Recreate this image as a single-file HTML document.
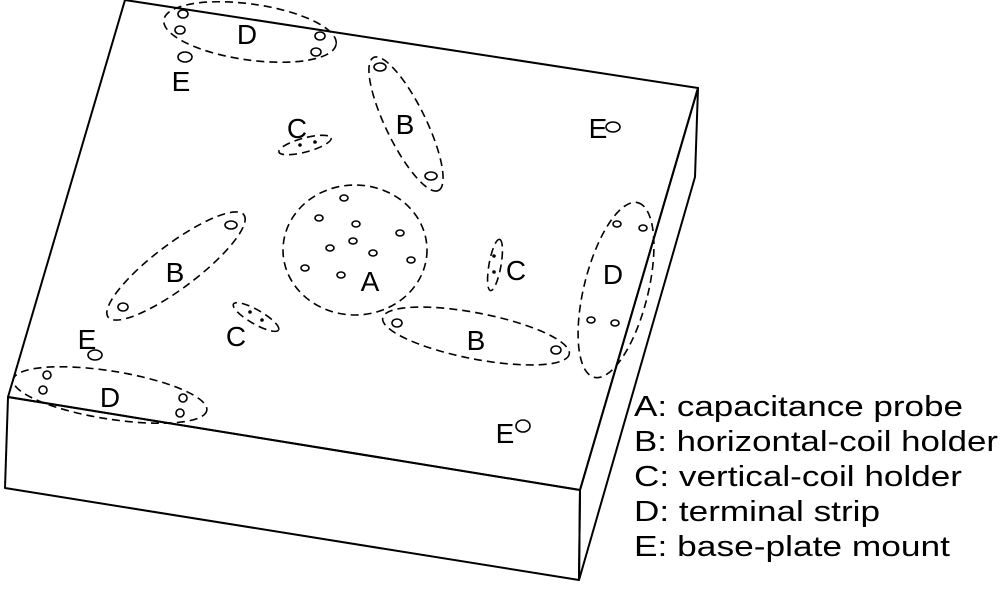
<!DOCTYPE html>
<html><head><meta charset="utf-8"><style>
html,body{margin:0;padding:0;background:#fff;}
svg{display:block;}
text{font-family:"Liberation Sans",Arial,sans-serif;fill:#000;}
</style></head><body>
<svg width="1007" height="597" viewBox="0 0 1007 597" xmlns="http://www.w3.org/2000/svg">
<g fill="none" stroke="#000" stroke-width="2" stroke-linejoin="round">
<polygon points="125,0 698,88 580,490 8,397"/>
<polygon points="8,397 580,490 579,580 5,488"/>
<polygon points="698,88 695,177 579,580 580,490"/>
</g>
<g fill="none" stroke="#000" stroke-width="1.6" stroke-dasharray="8,5">
<ellipse cx="250" cy="32" rx="87" ry="28" transform="rotate(8 250 32)"/>
<ellipse cx="305" cy="145" rx="27" ry="7" transform="rotate(-15 305 145)"/>
<ellipse cx="406" cy="124" rx="74" ry="20" transform="rotate(64 406 124)"/>
<ellipse cx="355" cy="250" rx="72" ry="65"/>
<ellipse cx="176" cy="266" rx="85" ry="22" transform="rotate(-37 176 266)"/>
<ellipse cx="256" cy="317" rx="26" ry="7" transform="rotate(30 256 317)"/>
<ellipse cx="476" cy="336" rx="95" ry="23" transform="rotate(11 476 336)"/>
<ellipse cx="495" cy="265" rx="26" ry="6" transform="rotate(-80 495 265)"/>
<ellipse cx="616" cy="290" rx="90" ry="32" transform="rotate(-76 616 290)"/>
<ellipse cx="110" cy="395" rx="98" ry="24" transform="rotate(9 110 395)"/>
</g>
<g fill="none" stroke="#000" stroke-width="1.6">
<ellipse cx="183" cy="14" rx="5" ry="4"/><ellipse cx="180" cy="30" rx="5" ry="4"/>
<ellipse cx="320" cy="36" rx="5" ry="4"/><ellipse cx="316" cy="52" rx="5" ry="4"/>
<ellipse cx="185" cy="57" rx="7" ry="5"/>
<ellipse cx="380" cy="67" rx="6" ry="4"/><ellipse cx="431" cy="176" rx="6" ry="4"/>
<ellipse cx="344" cy="198" rx="4" ry="3"/><ellipse cx="319" cy="218" rx="4" ry="3"/>
<ellipse cx="356" cy="224" rx="4" ry="3"/><ellipse cx="400" cy="233" rx="4" ry="3"/>
<ellipse cx="353" cy="241" rx="4" ry="3"/><ellipse cx="330" cy="248" rx="4" ry="3"/>
<ellipse cx="373" cy="253" rx="4" ry="3"/><ellipse cx="411" cy="260" rx="4" ry="3"/>
<ellipse cx="305" cy="268" rx="4" ry="3"/><ellipse cx="341" cy="275" rx="4" ry="3"/>
<ellipse cx="231" cy="225" rx="6" ry="4"/><ellipse cx="123" cy="307" rx="5" ry="4"/>
<ellipse cx="397" cy="323" rx="5" ry="4"/><ellipse cx="556" cy="350" rx="5" ry="4"/>
<ellipse cx="617" cy="224" rx="4" ry="3"/><ellipse cx="643" cy="228" rx="4" ry="3"/>
<ellipse cx="591" cy="320" rx="4" ry="3"/><ellipse cx="615" cy="323" rx="4" ry="3"/>
<ellipse cx="95" cy="355" rx="7" ry="5"/>
<ellipse cx="47" cy="375" rx="4" ry="4"/><ellipse cx="43" cy="390" rx="4" ry="4"/>
<ellipse cx="183" cy="398" rx="4" ry="4"/><ellipse cx="180" cy="413" rx="4" ry="4"/>
<ellipse cx="613" cy="127" rx="7" ry="5"/>
<ellipse cx="523" cy="426" rx="7" ry="6"/>
</g>
<g fill="#000">
<circle cx="300" cy="145" r="1.8"/><circle cx="315" cy="142" r="1.8"/>
<circle cx="250" cy="312" r="1.8"/><circle cx="262" cy="320" r="1.8"/>
<circle cx="494" cy="256" r="1.8"/><circle cx="494" cy="272" r="1.8"/>
</g>
<g font-size="28" text-anchor="middle">
<text x="247" y="44">D</text>
<text x="181" y="91">E</text>
<text x="297" y="138">C</text>
<text x="405" y="134">B</text>
<text x="370" y="291">A</text>
<text x="175" y="282">B</text>
<text x="236" y="346">C</text>
<text x="476" y="350">B</text>
<text x="516" y="280">C</text>
<text x="613" y="284">D</text>
<text x="87" y="349">E</text>
<text x="110" y="407">D</text>
<text x="598" y="138">E</text>
<text x="505" y="443">E</text>
</g>
<g font-size="29">
<text x="634" y="416" textLength="329" lengthAdjust="spacingAndGlyphs">A: capacitance probe</text>
<text x="634" y="451" textLength="364" lengthAdjust="spacingAndGlyphs">B: horizontal-coil holder</text>
<text x="634" y="486" textLength="328" lengthAdjust="spacingAndGlyphs">C: vertical-coil holder</text>
<text x="634" y="521" textLength="246" lengthAdjust="spacingAndGlyphs">D: terminal strip</text>
<text x="634" y="556" textLength="316" lengthAdjust="spacingAndGlyphs">E: base-plate mount</text>
</g>
</svg>
</body></html>
